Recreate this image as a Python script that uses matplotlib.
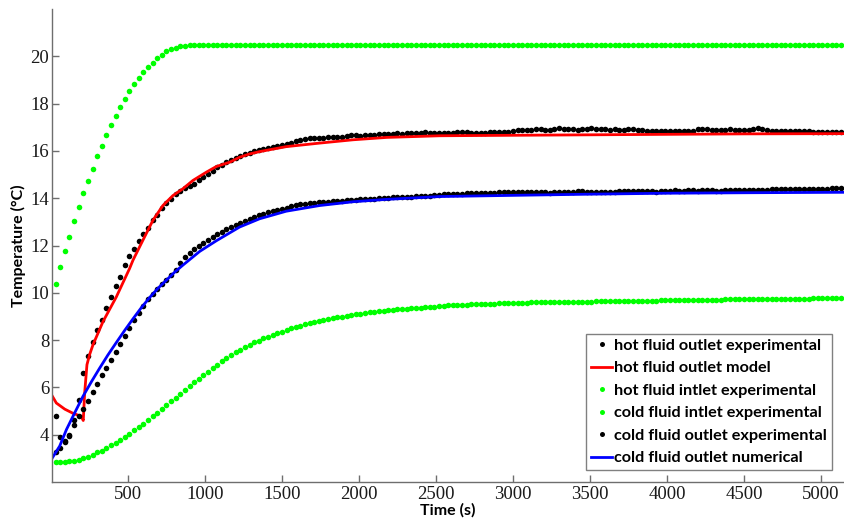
import numpy as np
import matplotlib
matplotlib.use("Agg")
import matplotlib.pyplot as plt

# sampling of the logged data (every 30 s)
time_exp = np.arange(30, 5131, 30)

hot_in_exp = [
    10.38, 11.08, 11.76, 12.37, 13.02, 13.62, 14.20, 14.73, 15.25, 15.77,
    16.21, 16.67, 17.10, 17.49, 17.85, 18.19, 18.53, 18.83, 19.09, 19.33,
    19.53, 19.73, 19.91, 20.06, 20.22, 20.32, 20.37, 20.43, 20.45, 20.46,
    20.46, 20.46, 20.46, 20.46, 20.46, 20.46, 20.46, 20.46, 20.46, 20.46,
    20.46, 20.46, 20.46, 20.46, 20.46, 20.46, 20.46, 20.46, 20.46, 20.46,
    20.46, 20.46, 20.46, 20.46, 20.46, 20.46, 20.46, 20.46, 20.46, 20.46,
    20.46, 20.46, 20.46, 20.46, 20.46, 20.46, 20.46, 20.46, 20.46, 20.46,
    20.46, 20.46, 20.46, 20.46, 20.46, 20.46, 20.46, 20.46, 20.46, 20.46,
    20.46, 20.46, 20.46, 20.46, 20.46, 20.46, 20.46, 20.46, 20.46, 20.46,
    20.46, 20.46, 20.46, 20.46, 20.46, 20.46, 20.46, 20.46, 20.46, 20.46,
    20.46, 20.46, 20.46, 20.46, 20.46, 20.46, 20.46, 20.46, 20.46, 20.46,
    20.46, 20.46, 20.46, 20.46, 20.46, 20.46, 20.46, 20.46, 20.46, 20.46,
    20.46, 20.46, 20.46, 20.46, 20.46, 20.46, 20.46, 20.46, 20.46, 20.46,
    20.46, 20.46, 20.46, 20.46, 20.46, 20.46, 20.46, 20.46, 20.46, 20.46,
    20.46, 20.46, 20.46, 20.46, 20.46, 20.46, 20.46, 20.46, 20.46, 20.46,
    20.46, 20.46, 20.46, 20.46, 20.46, 20.46, 20.46, 20.46, 20.46, 20.46,
    20.46, 20.46, 20.46, 20.46, 20.46, 20.46, 20.46, 20.46, 20.46, 20.46,
    20.46,
]

cold_in_exp = [
    2.84, 2.84, 2.86, 2.87, 2.90, 2.94, 3.00, 3.07, 3.15, 3.25,
    3.33, 3.43, 3.55, 3.66, 3.78, 3.91, 4.05, 4.18, 4.32, 4.46,
    4.61, 4.78, 4.93, 5.09, 5.24, 5.41, 5.57, 5.72, 5.89, 6.04,
    6.21, 6.35, 6.51, 6.66, 6.80, 6.94, 7.10, 7.26, 7.39, 7.50,
    7.60, 7.70, 7.80, 7.90, 7.98, 8.07, 8.15, 8.22, 8.29, 8.36,
    8.43, 8.50, 8.56, 8.61, 8.67, 8.73, 8.77, 8.81, 8.85, 8.89,
    8.93, 8.96, 8.99, 9.03, 9.06, 9.09, 9.12, 9.14, 9.17, 9.20,
    9.22, 9.24, 9.26, 9.29, 9.30, 9.31, 9.33, 9.34, 9.36, 9.37,
    9.38, 9.41, 9.42, 9.44, 9.46, 9.47, 9.48, 9.49, 9.50, 9.50,
    9.51, 9.52, 9.52, 9.53, 9.54, 9.54, 9.55, 9.56, 9.56, 9.57,
    9.57, 9.58, 9.58, 9.59, 9.59, 9.60, 9.60, 9.60, 9.61, 9.61,
    9.61, 9.62, 9.62, 9.62, 9.63, 9.63, 9.63, 9.64, 9.64, 9.64,
    9.65, 9.65, 9.65, 9.66, 9.66, 9.66, 9.66, 9.67, 9.67, 9.67,
    9.67, 9.68, 9.68, 9.68, 9.69, 9.69, 9.69, 9.70, 9.70, 9.70,
    9.70, 9.71, 9.71, 9.71, 9.71, 9.72, 9.72, 9.72, 9.72, 9.73,
    9.73, 9.73, 9.73, 9.73, 9.74, 9.74, 9.74, 9.74, 9.74, 9.75,
    9.75, 9.75, 9.75, 9.75, 9.76, 9.76, 9.76, 9.76, 9.76, 9.77,
    9.77,
]

hot_out_exp = [
    4.81, 3.89, 3.75, 4.00, 4.61, 5.48, 6.59, 7.33, 7.92, 8.42,
    8.86, 9.34, 9.81, 10.28, 10.66, 11.17, 11.55, 11.84, 12.18, 12.47,
    12.75, 13.06, 13.31, 13.60, 13.79, 13.97, 14.19, 14.32, 14.42, 14.50,
    14.61, 14.75, 14.88, 15.03, 15.17, 15.30, 15.42, 15.53, 15.63, 15.72,
    15.80, 15.88, 15.93, 15.99, 16.04, 16.09, 16.14, 16.18, 16.22, 16.25,
    16.28, 16.34, 16.40, 16.45, 16.50, 16.54, 16.53, 16.55, 16.54, 16.57,
    16.60, 16.58, 16.60, 16.61, 16.66, 16.67, 16.65, 16.68, 16.67, 16.69,
    16.71, 16.70, 16.72, 16.70, 16.74, 16.73, 16.75, 16.74, 16.77, 16.76,
    16.78, 16.77, 16.77, 16.75, 16.74, 16.74, 16.75, 16.78, 16.79, 16.78,
    16.77, 16.75, 16.74, 16.77, 16.79, 16.81, 16.81, 16.79, 16.81, 16.84,
    16.87, 16.88, 16.89, 16.89, 16.91, 16.91, 16.89, 16.88, 16.91, 16.95,
    16.94, 16.92, 16.91, 16.89, 16.91, 16.91, 16.96, 16.94, 16.91, 16.91,
    16.89, 16.91, 16.89, 16.89, 16.91, 16.91, 16.89, 16.87, 16.85, 16.84,
    16.85, 16.85, 16.84, 16.85, 16.84, 16.84, 16.85, 16.86, 16.85, 16.91,
    16.94, 16.92, 16.89, 16.89, 16.88, 16.89, 16.92, 16.89, 16.88, 16.88,
    16.89, 16.91, 16.95, 16.94, 16.88, 16.85, 16.85, 16.84, 16.85, 16.84,
    16.84, 16.84, 16.85, 16.86, 16.82, 16.81, 16.80, 16.80, 16.81, 16.81,
    16.80,
]

cold_out_exp = [
    3.26, 3.42, 3.68, 3.95, 4.39, 4.78, 5.10, 5.41, 5.79, 6.14,
    6.51, 6.82, 7.17, 7.49, 7.84, 8.19, 8.53, 8.85, 9.13, 9.44,
    9.72, 9.97, 10.14, 10.37, 10.56, 10.76, 10.98, 11.24, 11.50, 11.70,
    11.87, 12.00, 12.10, 12.24, 12.36, 12.47, 12.57, 12.69, 12.78, 12.85,
    12.95, 13.04, 13.12, 13.19, 13.28, 13.35, 13.41, 13.47, 13.52, 13.56,
    13.60, 13.65, 13.70, 13.74, 13.77, 13.79, 13.81, 13.83, 13.84, 13.86,
    13.87, 13.88, 13.89, 13.91, 13.93, 13.94, 13.95, 13.96, 13.97, 13.98,
    14.00, 14.01, 14.02, 14.03, 14.04, 14.05, 14.06, 14.07, 14.08, 14.10,
    14.11, 14.11, 14.13, 14.14, 14.16, 14.16, 14.17, 14.17, 14.18, 14.20,
    14.20, 14.21, 14.21, 14.23, 14.24, 14.24, 14.25, 14.25, 14.25, 14.27,
    14.28, 14.28, 14.28, 14.27, 14.27, 14.25, 14.25, 14.24, 14.27, 14.28,
    14.28, 14.28, 14.28, 14.30, 14.30, 14.28, 14.28, 14.28, 14.27, 14.27,
    14.28, 14.28, 14.30, 14.30, 14.30, 14.31, 14.31, 14.30, 14.30, 14.31,
    14.28, 14.30, 14.30, 14.31, 14.33, 14.31, 14.31, 14.33, 14.33, 14.31,
    14.33, 14.33, 14.33, 14.31, 14.31, 14.33, 14.33, 14.34, 14.34, 14.34,
    14.34, 14.35, 14.35, 14.34, 14.35, 14.37, 14.37, 14.37, 14.38, 14.38,
    14.38, 14.37, 14.38, 14.39, 14.39, 14.41, 14.39, 14.41, 14.42, 14.42,
    14.44,
]

# model / numerical curves
time_hot_model = [10, 35, 90, 145, 197, 210, 219, 234, 251, 273, 338, 425, 511,
                  533, 597, 662, 727, 792, 857, 922, 1009, 1074, 1160, 1225,
                  1290, 1355, 1528, 1745, 1962, 2179, 2526, 3000, 3500, 4000,
                  4500, 5160]
hot_out_model = [5.62, 5.34, 5.08, 4.90, 4.78, 4.60, 5.76, 6.96, 7.38, 7.80,
                 8.78, 9.83, 11.03, 11.38, 12.22, 13.06, 13.69, 14.11, 14.40,
                 14.75, 15.10, 15.34, 15.52, 15.73, 15.87, 15.97, 16.18, 16.33,
                 16.47, 16.57, 16.64, 16.66, 16.68, 16.70, 16.72, 16.73]

time_cold_num = [10, 57, 101, 154, 208, 262, 316, 370, 425, 479, 533, 587,
                 641, 695, 749, 803, 857, 966, 1074, 1225, 1355, 1528, 1745,
                 1962, 2179, 2526, 3000, 3500, 4000, 4500, 5160]
cold_out_num = [3.03, 3.52, 4.22, 4.92, 5.62, 6.23, 6.81, 7.37, 7.90, 8.41,
                8.90, 9.37, 9.80, 10.19, 10.53, 10.87, 11.17, 11.75, 12.20,
                12.78, 13.13, 13.45, 13.69, 13.85, 13.95, 14.07, 14.12, 14.17,
                14.21, 14.23, 14.25]

labels = ['hot fluid outlet experimental', 'hot fluid outlet model',
          'hot fluid intlet experimental', 'cold fluid intlet experimental',
          'cold fluid outlet experimental', 'cold fluid outlet numerical']

fig = plt.figure(figsize=(8.44, 5.2), dpi=100)
ax = fig.add_axes([52 / 844, 1 - 482 / 520, 792 / 844, 473 / 520])

ms = 4.0
ax.plot(time_exp, hot_out_exp, 'o', color='black', ms=ms, mew=0, label=labels[0])
ax.plot(time_hot_model, hot_out_model, '-', color='#ff0000', lw=2.0, label=labels[1])
ax.plot(time_exp, hot_in_exp, 'o', color='#00ff00', ms=ms, mew=0, label=labels[2])
ax.plot(time_exp, cold_in_exp, 'o', color='#00ff00', ms=ms, mew=0, label=labels[3])
ax.plot(time_exp, cold_out_exp, 'o', color='black', ms=ms, mew=0, label=labels[4])
ax.plot(time_cold_num, cold_out_num, '-', color='#0000ff', lw=2.0, label=labels[5])

ax.set_xlim(7, 5150)
ax.set_ylim(2, 22)
ax.set_xticks(range(500, 5001, 500))
ax.set_yticks(range(4, 21, 2))

for s in ['top', 'right']:
    ax.spines[s].set_visible(False)
for s in ['left', 'bottom']:
    ax.spines[s].set_color('#6e6e6e')
    ax.spines[s].set_linewidth(1.0)

ax.tick_params(direction='in', length=5, width=1, color='#6e6e6e',
               labelsize=13.5, labelcolor='#1a1a1a')
ax.tick_params(axis='y', pad=2)
ax.tick_params(axis='x', pad=3)
for lbl in ax.get_xticklabels() + ax.get_yticklabels():
    lbl.set_fontfamily('Liberation Serif')

ax.set_xlabel('Time (s)', fontfamily='Lato', fontweight='bold', fontsize=11.5, labelpad=0)
ax.set_ylabel('Temperature (°C)', fontfamily='Lato', fontweight='bold', fontsize=11.5, labelpad=3)

leg = ax.legend(loc='lower right', bbox_to_anchor=(0.985, 0.025),
                prop={'family': 'Lato', 'weight': 'bold', 'size': 11.7},
                fancybox=False, framealpha=1, edgecolor='#808080',
                handlelength=1.3, handletextpad=0.12, borderpad=0.3,
                labelspacing=0.5, borderaxespad=0.0, markerscale=0.9)
leg.get_frame().set_linewidth(1.0)

fig.savefig('out.png', dpi=100)
